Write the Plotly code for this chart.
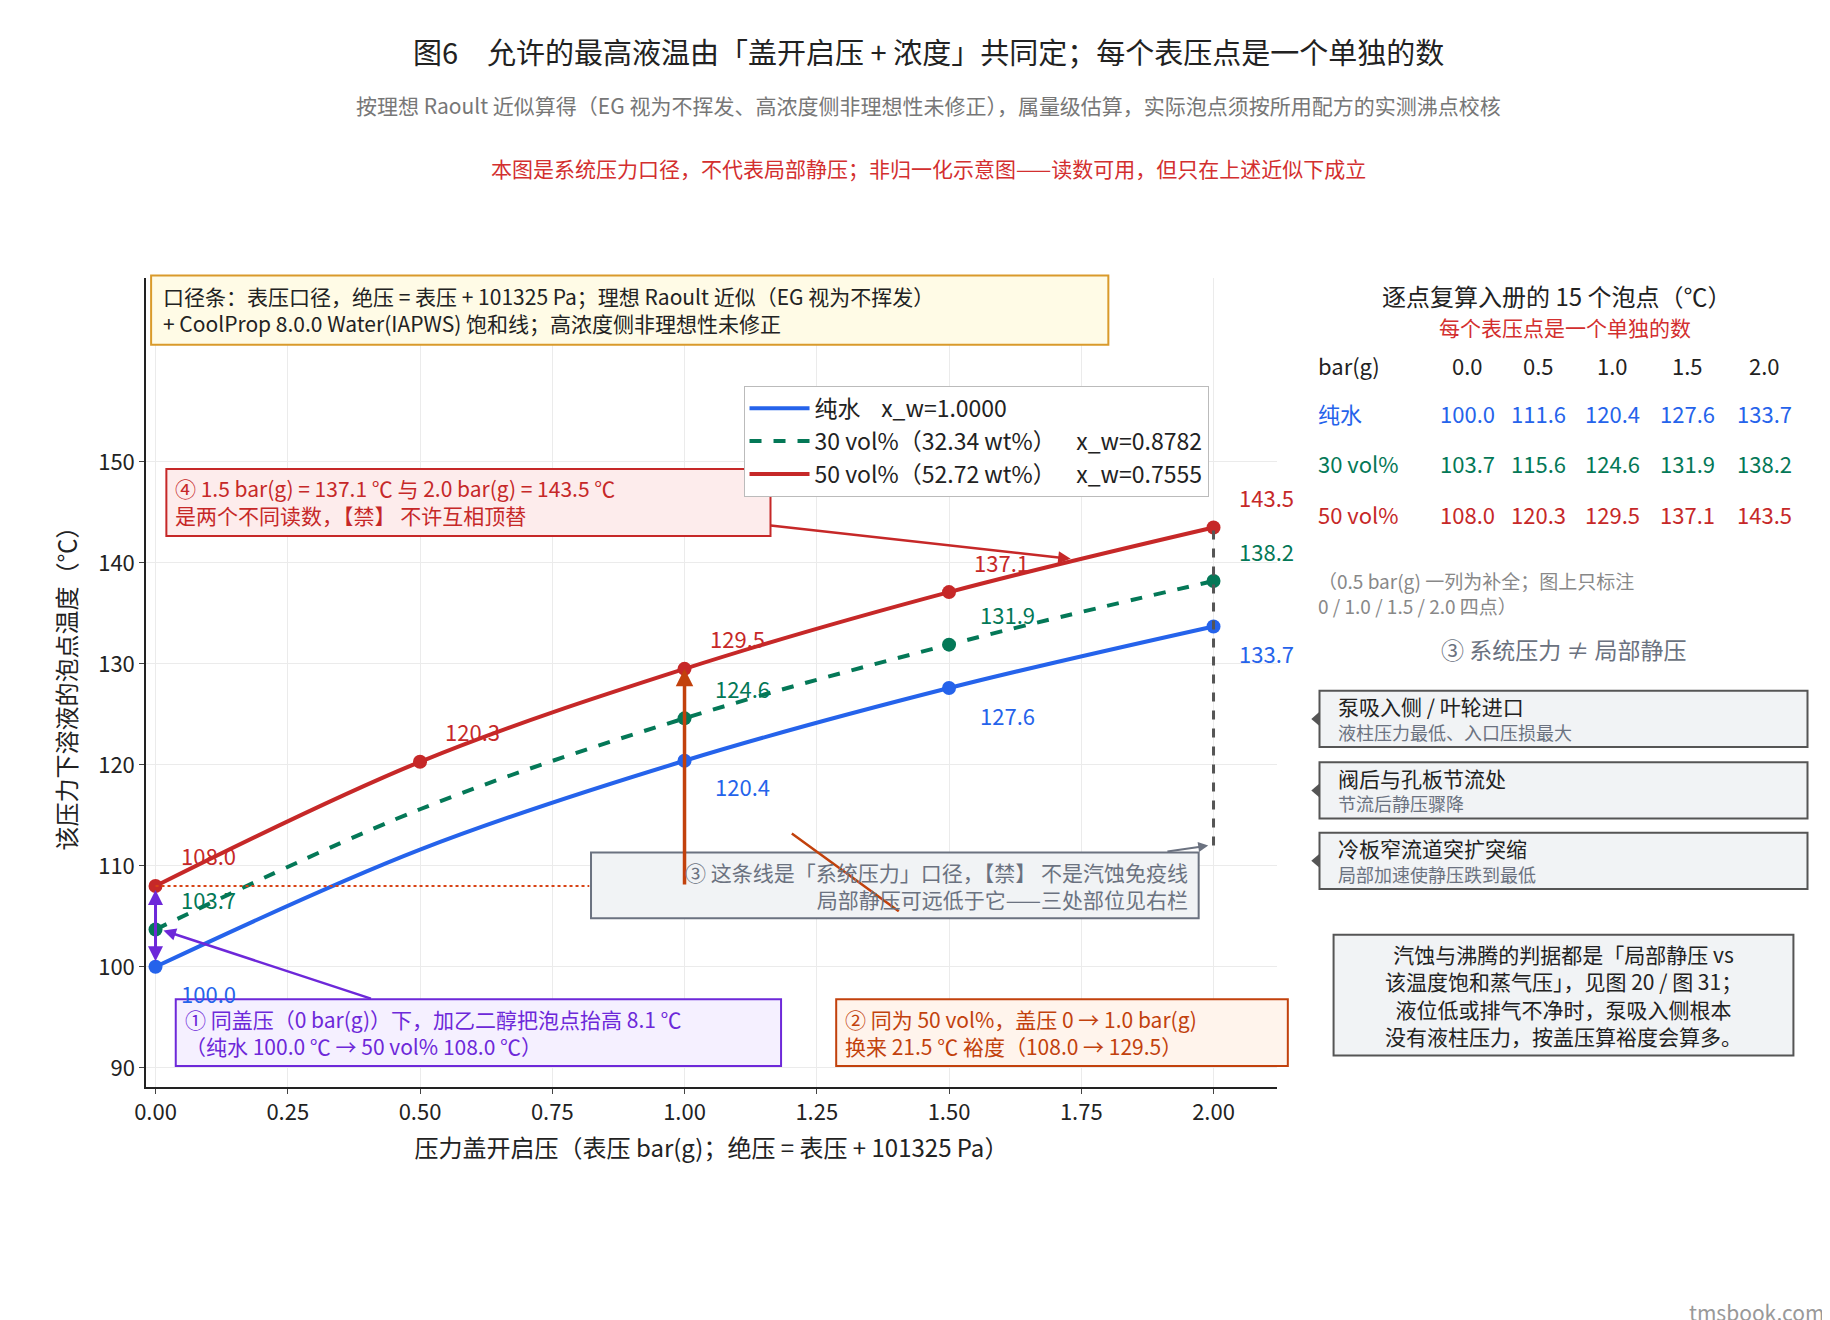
import plotly.graph_objects as go

# 数据
pressure = [0.0, 0.5, 1.0, 1.5, 2.0]
water = [100.0, 111.6, 120.4, 127.6, 133.7]
eg30 = [103.7, 115.6, 124.6, 131.9, 138.2]
eg50 = [108.0, 120.3, 129.5, 137.1, 143.5]
marked_p = [0.0, 1.0, 1.5, 2.0]
col_labels = ["0.0", "0.5", "1.0", "1.5", "2.0"]

W, H = 1830, 1320
ML, MR, MT, MB = 138, 561, 270, 241
FONT = "Noto Sans CJK SC"
BLUE, GREEN, RED = "#2563eb", "#047857", "#c62828"
PURPLE, ORANGE, GREY = "#6d28d9", "#c2410c", "#6b7280"
S = 1830 / 1560


def px(vx, vy):
    # 参考图坐标 (1560x1125) -> paper（相对绘图区）
    rx, ry = vx * S, vy * S
    return (rx - ML) / (W - ML - MR), (H - MB - ry) / (H - MT - MB)


def pick(xs, ys, keep):
    return [y for x, y in zip(xs, ys) if x in keep]


fig = go.Figure()
fig.add_trace(go.Scatter(x=pressure, y=water, mode="lines", line=dict(color=BLUE, width=4, shape="spline"),
                         name="纯水    x_w=1.0000"))
fig.add_trace(go.Scatter(x=pressure, y=eg30, mode="lines", line=dict(color=GREEN, width=4, dash="dash", shape="spline"),
                         name="30 vol%（32.34 wt%）    x_w=0.8782"))
fig.add_trace(go.Scatter(x=pressure, y=eg50, mode="lines", line=dict(color=RED, width=4, shape="spline"),
                         name="50 vol%（52.72 wt%）    x_w=0.7555"))
fig.add_trace(go.Scatter(x=marked_p, y=pick(pressure, water, marked_p), mode="markers",
                         marker=dict(color=BLUE, size=14), showlegend=False))
fig.add_trace(go.Scatter(x=marked_p, y=pick(pressure, eg30, marked_p), mode="markers",
                         marker=dict(color=GREEN, size=14), showlegend=False))
fig.add_trace(go.Scatter(x=pressure, y=eg50, mode="markers",
                         marker=dict(color=RED, size=14), showlegend=False))

ann = []
shapes = []

# 点标注
for series, color, dx_dy in [(water, BLUE, [(0.1, -2.6), None, (0.11, -2.5), (0.11, -2.7), (0.1, -2.6)]),
                             (eg30, GREEN, [(0.1, 3.0), None, (0.11, 3.0), (0.11, 3.0), (0.1, 3.0)]),
                             (eg50, RED, [(0.1, 3.1), (0.1, 3.0), (0.1, 3.1), (0.1, 3.0), (0.1, 3.0)])]:
    for p, v, d in zip(pressure, series, dx_dy):
        if d is None:
            continue
        ann.append(dict(x=p + d[0], y=v + d[1], xref="x", yref="y", text=f"{v:.1f}", showarrow=False,
                        font=dict(color=color, size=22), xanchor="center"))

# 辅助线
shapes.append(dict(type="line", xref="x", yref="y", x0=0, x1=0.82, y0=eg50[0], y1=eg50[0],
                   line=dict(color="#d84315", width=2, dash="dot")))
shapes.append(dict(type="line", xref="x", yref="y", x0=2.0, x1=2.0, y0=112, y1=eg50[4],
                   line=dict(color="#555", width=3, dash="dash")))
ann.append(dict(x=1.0, y=eg50[2], ax=1.0, ay=eg50[0], xref="x", yref="y", axref="x", ayref="y", text="",
                showarrow=True, arrowhead=2, arrowwidth=3.5, arrowcolor=ORANGE))
ann.append(dict(x=0.0, y=eg50[0] - 0.4, ax=0.0, ay=water[0] + 0.4, xref="x", yref="y", axref="x", ayref="y",
                text="", showarrow=True, arrowhead=2, startarrowhead=2, arrowside="end+start",
                arrowwidth=3, arrowcolor=PURPLE))
ann.append(dict(x=0.015, y=103.6, ax=0.41, ay=96.8, xref="x", yref="y", axref="x", ayref="y", text="",
                showarrow=True, arrowhead=2, arrowwidth=2.5, arrowcolor=PURPLE))
ann.append(dict(x=1.73, y=140.4, ax=1.16, ay=143.7, xref="x", yref="y", axref="x", ayref="y", text="",
                showarrow=True, arrowhead=2, arrowwidth=2.5, arrowcolor=RED))
ann.append(dict(x=1.99, y=112.0, ax=1.91, ay=111.4, xref="x", yref="y", axref="x", ayref="y", text="",
                showarrow=True, arrowhead=2, arrowwidth=2, arrowcolor=GREY))
ann.append(dict(x=1.405, y=105.5, ax=1.2, ay=113.3, xref="x", yref="y", axref="x", ayref="y", text="",
                showarrow=True, arrowhead=0, arrowwidth=2.5, arrowcolor=ORANGE))


def box(x0, y0, x1, y1, border, bg, width=2):
    a, b = px(x0, y0)
    c, d = px(x1, y1)
    shapes.append(dict(type="rect", xref="paper", yref="paper", x0=a, x1=c, y0=d, y1=b,
                       line=dict(color=border, width=width), fillcolor=bg, layer="above"))


def text(vx, vy, s, color="#222", size=20, xanchor="left", align="left", yanchor="middle"):
    x, y = px(vx, vy)
    ann.append(dict(x=x, y=y, xref="paper", yref="paper", text=s, showarrow=False, xanchor=xanchor,
                    yanchor=yanchor, align=align, font=dict(color=color, size=size)))


# 标题
text(785, 37, "图6　允许的最高液温由「盖开启压 + 浓度」共同定；每个表压点是一个单独的数", "#222", 29, "center")
text(785, 83, "按理想 Raoult 近似算得（EG 视为不挥发、高浓度侧非理想性未修正），属量级估算，实际泡点须按所用配方的实测沸点校核",
     "#777", 21, "center")
text(785, 136, "本图是系统压力口径，不代表局部静压；非归一化示意图——读数可用，但只在上述近似下成立", "#d32f2f", 21, "center")

# 框内说明
box(122, 228, 938, 287, "#d99a2b", "#fffbe6")
text(130, 257, "口径条：表压口径，绝压 = 表压 + 101325 Pa；理想 Raoult 近似（EG 视为不挥发）<br>+ CoolProp 8.0.0 Water(IAPWS) 饱和线；高浓度侧非理想性未修正", "#222", 21)
box(135, 393, 650, 450, "#c62828", "#fdecec")
text(141, 421, "④ 1.5 bar(g) = 137.1 ℃ 与 2.0 bar(g) = 143.5 ℃<br>是两个不同读数，【禁】 不许互相顶替", RED, 21)
box(497, 720, 1015, 776, GREY, "#f1f3f5")
text(1008, 748, "③ 这条线是「系统压力」口径，【禁】 不是汽蚀免疫线<br>局部静压可远低于它——三处部位见右栏", GREY, 21, "right", "right")
box(143, 845, 659, 902, PURPLE, "#f5f0ff")
text(149, 873, "① 同盖压（0 bar(g)）下，加乙二醇把泡点抬高 8.1 ℃<br>（纯水 100.0 ℃ → 50 vol% 108.0 ℃）", PURPLE, 21)
box(706, 845, 1091, 902, ORANGE, "#fff4ec")
text(712, 873, "② 同为 50 vol%，盖压 0 → 1.0 bar(g)<br>换来 21.5 ℃ 裕度（108.0 → 129.5）", ORANGE, 21)

# 右栏
text(1320, 245, "逐点复算入册的 15 个泡点（℃）", "#222", 24, "center")
text(1327, 272, "每个表压点是一个单独的数", "#d32f2f", 21, "center")
col_x = [1244, 1305, 1368, 1432, 1497]
text(1115, 304, "bar(g)", "#222", 22)
for cx, lab in zip(col_x, col_labels):
    text(cx, 304, lab, "#222", 22, "center")
for yy, lab, series, color in [(345, "纯水", water, BLUE), (388, "30 vol%", eg30, GREEN), (431, "50 vol%", eg50, RED)]:
    text(1115, yy, lab, color, 22)
    for cx, v in zip(col_x, series):
        text(cx, yy, f"{v:.1f}", color, 22, "center")
text(1115, 499, "（0.5 bar(g) 一列为补全；图上只标注<br>0 / 1.0 / 1.5 / 2.0 四点）", "#888", 19)
text(1326, 546, "③ 系统压力 ≠ 局部静压", GREY, 23, "center")
for y0, title, sub in [(582, "泵吸入侧 / 叶轮进口", "液柱压力最低、入口压损最大"),
                       (643, "阀后与孔板节流处", "节流后静压骤降"),
                       (703, "冷板窄流道突扩突缩", "局部加速使静压跌到最低")]:
    box(1118, y0, 1534, y0 + 48, "#555", "#f1f3f5")
    text(1132, y0 + 13, title, "#222", 21)
    text(1132, y0 + 35, sub, GREY, 18)
    a, b = px(1111, y0 + 24)
    c, d = px(1118, y0 + 18)
    e, f = px(1118, y0 + 30)
    shapes.append(dict(type="path", xref="paper", yref="paper",
                       path=f"M {a} {b} L {c} {d} L {e} {f} Z", fillcolor="#555", line=dict(width=0)))
box(1130, 790, 1522, 893, "#555", "#f1f3f5")
text(1326, 841, "汽蚀与沸腾的判据都是「局部静压 vs<br>该温度饱和蒸气压」，见图 20 / 图 31；<br>液位低或排气不净时，泵吸入侧根本<br>没有液柱压力，按盖压算裕度会算多。",
     "#222", 21, "center", "center")
text(1550, 1112, "tmsbook.com", "#999", 21, "right")

lx, ly = px(627, 322)
fig.update_layout(
    width=W, height=H, plot_bgcolor="white", paper_bgcolor="white",
    font=dict(family=FONT, size=20, color="#222"),
    margin=dict(l=ML, r=MR, t=MT, b=MB),
    legend=dict(x=lx, y=ly, xanchor="left", yanchor="top", bgcolor="white", bordercolor="#bbb",
                borderwidth=1, font=dict(size=23), itemwidth=60, tracegroupgap=2),
    annotations=ann, shapes=shapes,
)
fig.update_xaxes(range=[-0.018, 2.12], tickvals=[0, 0.25, 0.5, 0.75, 1.0, 1.25, 1.5, 1.75, 2.0],
                 ticktext=["0.00", "0.25", "0.50", "0.75", "1.00", "1.25", "1.50", "1.75", "2.00"],
                 showgrid=True, gridcolor="#ebebeb", showline=True, linecolor="#222", linewidth=1.5,
                 ticks="outside", tickfont=dict(size=22), zeroline=False,
                 title=dict(text="压力盖开启压（表压 bar(g)；绝压 = 表压 + 101325 Pa）", font=dict(size=24)))
fig.update_yaxes(range=[88.1, 168.2], tickvals=[90, 100, 110, 120, 130, 140, 150],
                 showgrid=True, gridcolor="#ebebeb", showline=True, linecolor="#222", linewidth=1.5,
                 ticks="outside", tickfont=dict(size=22), zeroline=False,
                 title=dict(text="该压力下溶液的泡点温度（℃）", font=dict(size=24)))

fig.write_html("out.html")
